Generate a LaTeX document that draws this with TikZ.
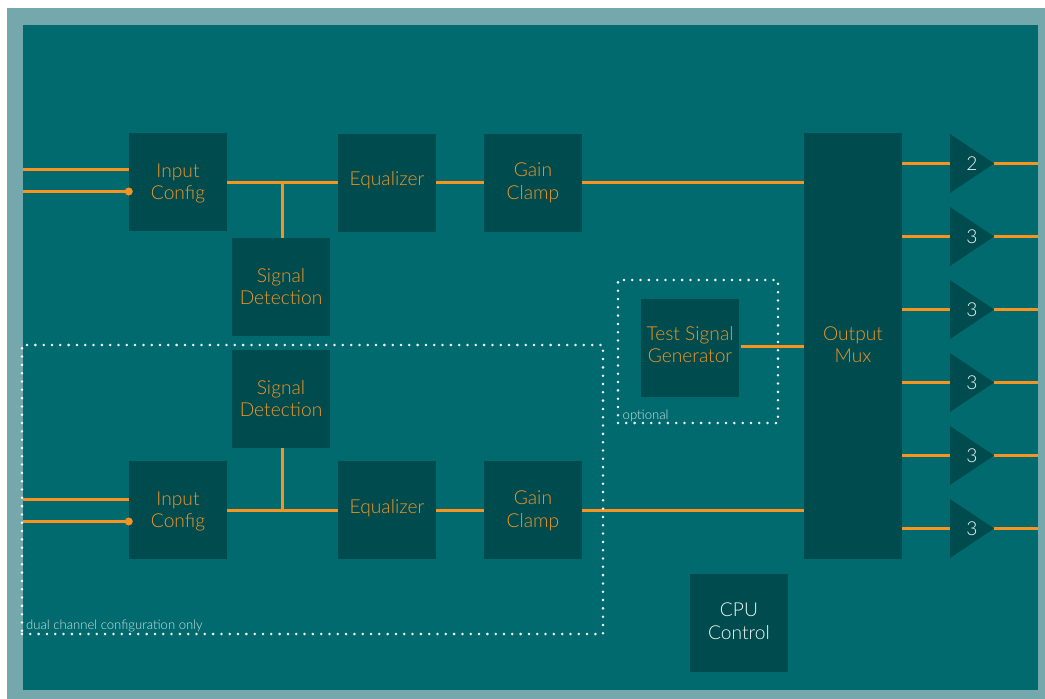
\documentclass[tikz,border=0pt]{standalone}
\usepackage{fontspec}
\setmainfont{Lato}[UprightFont=* Light]
\definecolor{framec}{HTML}{74A8AC}
\definecolor{bgc}{HTML}{006A6E}
\definecolor{boxc}{HTML}{004B4E}
\definecolor{linec}{HTML}{F7931E}
\definecolor{txtc}{HTML}{F09628}
\definecolor{pale}{HTML}{EEF5F5}
\definecolor{small}{HTML}{CFE4E5}
\newcommand{\up}[2]{\raisebox{#1}[\height][\depth]{#2}}
\tikzset{
  x=1bp,y=-1bp,
  block/.style={fill=boxc,draw=none,text=txtc,font=\fontsize{19.2bp}{22bp}\selectfont,align=center,inner sep=0pt,minimum width=98bp,minimum height=98bp},
  cpu/.style={block,text=pale},
  amp/.style={draw=none,minimum width=44bp,minimum height=59bp,inner sep=0pt,text=pale,font=\fontsize{19.2bp}{22bp}\selectfont,
    path picture={\fill[boxc] (path picture bounding box.north west)--(path picture bounding box.east)--(path picture bounding box.south west)--cycle;}},
  wire/.style={draw=linec,line width=3bp},
  dotbox/.style={draw=white,line width=2.8bp,line cap=round,dash pattern=on 0pt off 8.31bp,inner sep=0pt,fill=none},
  note/.style={text=small,font=\fontsize{13.1bp}{15bp}\selectfont,inner sep=0pt,anchor=base west},
  jdot/.style={circle,fill=linec,inner sep=0pt,minimum size=8bp}
}
\begin{document}
\begin{tikzpicture}
\useasboundingbox (0,0) rectangle (1045,699);
\fill[white] (0,0) rectangle (1045,699);
\fill[framec] (7,8) rectangle (1045,699);
\fill[bgc] (23,25) rectangle (1038,690);
% blocks
\node[block] (in1) at (178,182) {\up{-1bp}{Input}\\\up{-1bp}{Conf{}ig}};
\node[block] (sd1) at (281,287) {\up{0bp}{Signal}\\\up{0bp}{Detection}};
\node[block] (eq1) at (387,183) {\up{3bp}{Equalizer}};
\node[block] (gc1) at (533,183) {\up{0.5bp}{Gain}\\\up{0bp}{Clamp}};
\node[block] (sd2) at (281,399) {\up{0bp}{Signal}\\\up{0bp}{Detection}};
\node[block] (in2) at (178,510) {\up{-1bp}{Input}\\\up{-1bp}{Conf{}ig}};
\node[block] (eq2) at (387,510) {\up{2bp}{Equalizer}};
\node[block] (gc2) at (533,510) {\up{-0.5bp}{Gain}\\\up{-1bp}{Clamp}};
\node[block] (tsg) at (690,348) {\up{3bp}{Test Signal}\\\up{3bp}{Generator}};
\node[block,minimum height=426bp] (mux) at (853,346) {\up{1bp}{Output}\\\up{1bp}{Mux}};
\node[cpu] (cpu) at (739,623) {\up{2bp}{CPU}\\\up{1.5bp}{Control}};
% amplifiers
\node[amp] (a1) at (972,163.5) {2\hspace{8bp}};
\node[amp] (a2) at (972,236.5) {3\hspace{8bp}};
\node[amp] (a3) at (972,309.5) {3\hspace{8bp}};
\node[amp] (a4) at (972,382.5) {3\hspace{8bp}};
\node[amp] (a5) at (972,455.5) {3\hspace{8bp}};
\node[amp] (a6) at (972,528.5) {3\hspace{8bp}};
% free ends
\coordinate (l1) at (23,169.5);
\coordinate (l2) at (23,191.5);
\coordinate (l3) at (23,499.5);
\coordinate (l4) at (23,521.5);
\coordinate (j1) at (282.5,182.5);
\coordinate (j2) at (282.5,510.5);
\coordinate (r) at (1038,0);
% wires
\draw[wire] (l1) -- (l1 -| in1.west);
\draw[wire] (l2) -- (l2 -| in1.west);
\node[jdot] (d1) at (l2 -| in1.west) {};
\draw[wire] (l3) -- (l3 -| in2.west);
\draw[wire] (l4) -- (l4 -| in2.west);
\node[jdot] (d2) at (l4 -| in2.west) {};
\draw[wire] (j1 -| in1.east) -- (j1 -| eq1.west);
\draw[wire] (j1) -- (j1 |- sd1.north);
\draw[wire] (j1 -| eq1.east) -- (j1 -| gc1.west);
\draw[wire] (j1 -| gc1.east) -- (j1 -| mux.west);
\draw[wire] (j2 -| in2.east) -- (j2 -| eq2.west);
\draw[wire] (j2) -- (j2 |- sd2.south);
\draw[wire] (j2 -| eq2.east) -- (j2 -| gc2.west);
\draw[wire] (j2 -| gc2.east) -- (j2 -| mux.west);
\draw[wire,shorten <=2bp] (tsg.east |- 0,346.5) -- (mux.west |- 0,346.5);
\foreach \a in {a1,a2,a3,a4,a5,a6}{
  \draw[wire] (\a.west -| mux.east) -- (\a.west);
  \draw[wire] (\a.east) -- (\a.east -| r);
}
% dotted regions
\node[dotbox,minimum width=581bp,minimum height=289bp] (dual) at (312.5,489.5) {};
\node[dotbox,minimum width=160bp,minimum height=143bp] (opt) at (698,351.5) {};
\node[note] (n1) at (26,629) {dual channel conf{}iguration only};
\node[note] (n2) at (622.5,419) {optional};
\end{tikzpicture}
\end{document}
